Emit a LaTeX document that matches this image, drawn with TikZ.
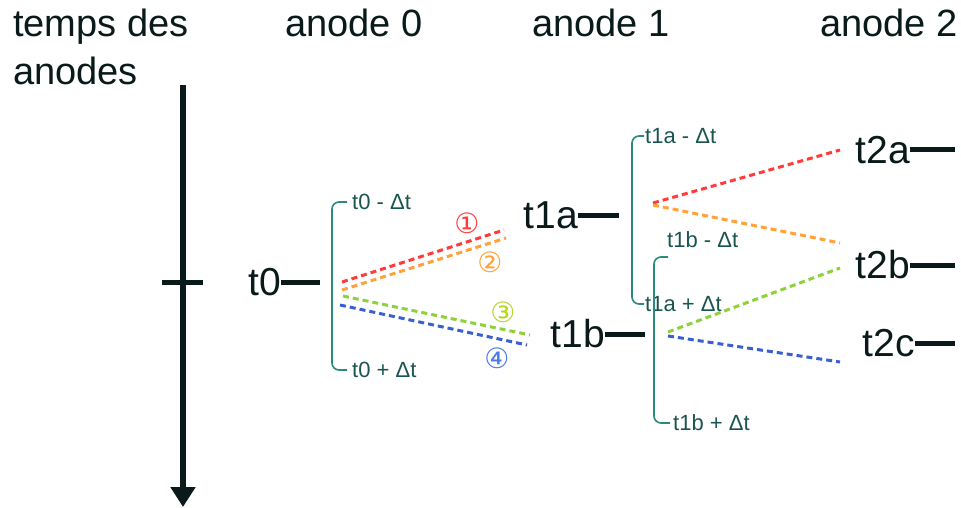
\documentclass[tikz,border=0pt]{standalone}
\usepackage{fontspec}
\setmainfont{Liberation Sans}
\newfontfamily\symfont{DejaVu Sans}
\usetikzlibrary{arrows.meta}
\definecolor{brk}{HTML}{2A8A7E}
\definecolor{lbl}{HTML}{1A5550}
\definecolor{ink}{HTML}{0A1A1A}
\definecolor{cred}{HTML}{FF3B3B}
\definecolor{corange}{HTML}{FFA23A}
\definecolor{cgreen}{HTML}{8FD13A}
\definecolor{cyel}{HTML}{B5D81E}
\definecolor{cblue}{HTML}{3A5FD0}
\definecolor{cblue2}{HTML}{4A7AE8}
\tikzset{
  hdr/.style={anchor=base west, inner sep=0pt, text=ink, font=\fontsize{38}{40}\selectfont},
  big/.style={anchor=east, inner sep=0pt, text=ink, font=\fontsize{39}{41}\selectfont},
  small/.style={anchor=west, inner sep=0pt, text=lbl, font=\fontsize{22}{24}\selectfont},
  tickdash/.style={line width=5pt, draw=ink},
  bracket/.style={draw=brk, line width=1.6pt, rounded corners=7pt},
  fan/.style={line width=3pt, dash pattern=on 6pt off 4pt},
  circ/.style={inner sep=0pt, font=\symfont\fontsize{28}{30}\selectfont},
  axisline/.style={draw=ink, line width=6pt, -{Triangle[width=24pt,length=20pt]}}
}
\begin{document}
\begin{tikzpicture}[x=1pt,y=-1pt]
\useasboundingbox[fill=white] (0,0) rectangle (961,508);
% headers
\node[hdr] (htemps) at (13,37) {temps des};
\node[hdr] (hanodes) at (13,85) {anodes};
\node[hdr] (ha0) at (285,37) {anode 0};
\node[hdr] (ha1) at (532,37) {anode 1};
\node[hdr] (ha2) at (820,37) {anode 2};
% time axis
\coordinate (axtop) at (183,85);
\coordinate (axbot) at (183,507);
\draw[axisline] (axtop) -- (axbot);
\coordinate (tickl) at (162,282);
\coordinate (tickr) at (203,282);
\draw[tickdash] (tickl) -- (tickr);
% big labels with dashes
\node[big] (t0) at (281,282) {t0};
\coordinate (d0) at (320,282);
\draw[tickdash] (t0.east) -- (d0);
\node[big] (t1a) at (578,215) {t1a};
\coordinate (d1a) at (619,215);
\draw[tickdash] (t1a.east) -- (d1a);
\node[big] (t1b) at (605,334) {t1b};
\coordinate (d1b) at (645,334);
\draw[tickdash] (t1b.east) -- (d1b);
\node[big] (t2a) at (910,150) {t2a};
\coordinate (d2a) at (955,150);
\draw[tickdash] (t2a.east) -- (d2a);
\node[big] (t2b) at (910,265) {t2b};
\coordinate (d2b) at (955,265);
\draw[tickdash] (t2b.east) -- (d2b);
\node[big] (t2c) at (915,343) {t2c};
\coordinate (d2c) at (955,343);
\draw[tickdash] (t2c.east) -- (d2c);
% small labels
\node[small] (l0m) at (352,202) {t0 - Δt};
\node[small] (l0p) at (352,370) {t0 + Δt};
\node[small] (l1am) at (645,136) {t1a - Δt};
\node[small] (l1ap) at (645,304) {t1a + Δt};
\node[small] (l1bm) at (667,240) {t1b - Δt};
\node[small] (l1bp) at (673,423) {t1b + Δt};
% brackets
\draw[bracket] ([xshift=-5pt]l0m.west) -| (332,286) |- ([xshift=-5pt]l0p.west);
\draw[bracket] ([xshift=-1pt]l1am.west) -| (632,220) |- ([xshift=-1pt]l1ap.west);
\coordinate (b1bt) at (668,257);
\draw[bracket] (b1bt) -| (654,340) |- ([xshift=-3pt]l1bp.west);
% fan lines anode 0 -> anode 1
\coordinate (r0s) at (342,282); \coordinate (r0e) at (504,230);
\coordinate (o0s) at (342,290); \coordinate (o0e) at (506,238);
\coordinate (g0s) at (343,296); \coordinate (g0e) at (530,335);
\coordinate (b0s) at (340,305); \coordinate (b0e) at (527,345);
\draw[fan, cred] (r0s) -- (r0e);
\draw[fan, corange] (o0s) -- (o0e);
\draw[fan, cgreen] (g0s) -- (g0e);
\draw[fan, cblue] (b0s) -- (b0e);
% fan lines anode 1 -> anode 2
\coordinate (r1s) at (653,203); \coordinate (r1e) at (840,150);
\coordinate (o1s) at (653,205); \coordinate (o1e) at (840,243);
\coordinate (g1s) at (668,332); \coordinate (g1e) at (840,268);
\coordinate (b1s) at (668,336); \coordinate (b1e) at (840,362);
\draw[fan, cred] (r1s) -- (r1e);
\draw[fan, corange] (o1s) -- (o1e);
\draw[fan, cgreen] (g1s) -- (g1e);
\draw[fan, cblue] (b1s) -- (b1e);
% circled numbers
\node[circ, text=cred] (c1) at (467,223) {①};
\node[circ, text=corange] (c2) at (490,262) {②};
\node[circ, text=cyel] (c3) at (503,312) {③};
\node[circ, text=cblue2] (c4) at (497,358) {④};
\end{tikzpicture}
\end{document}
